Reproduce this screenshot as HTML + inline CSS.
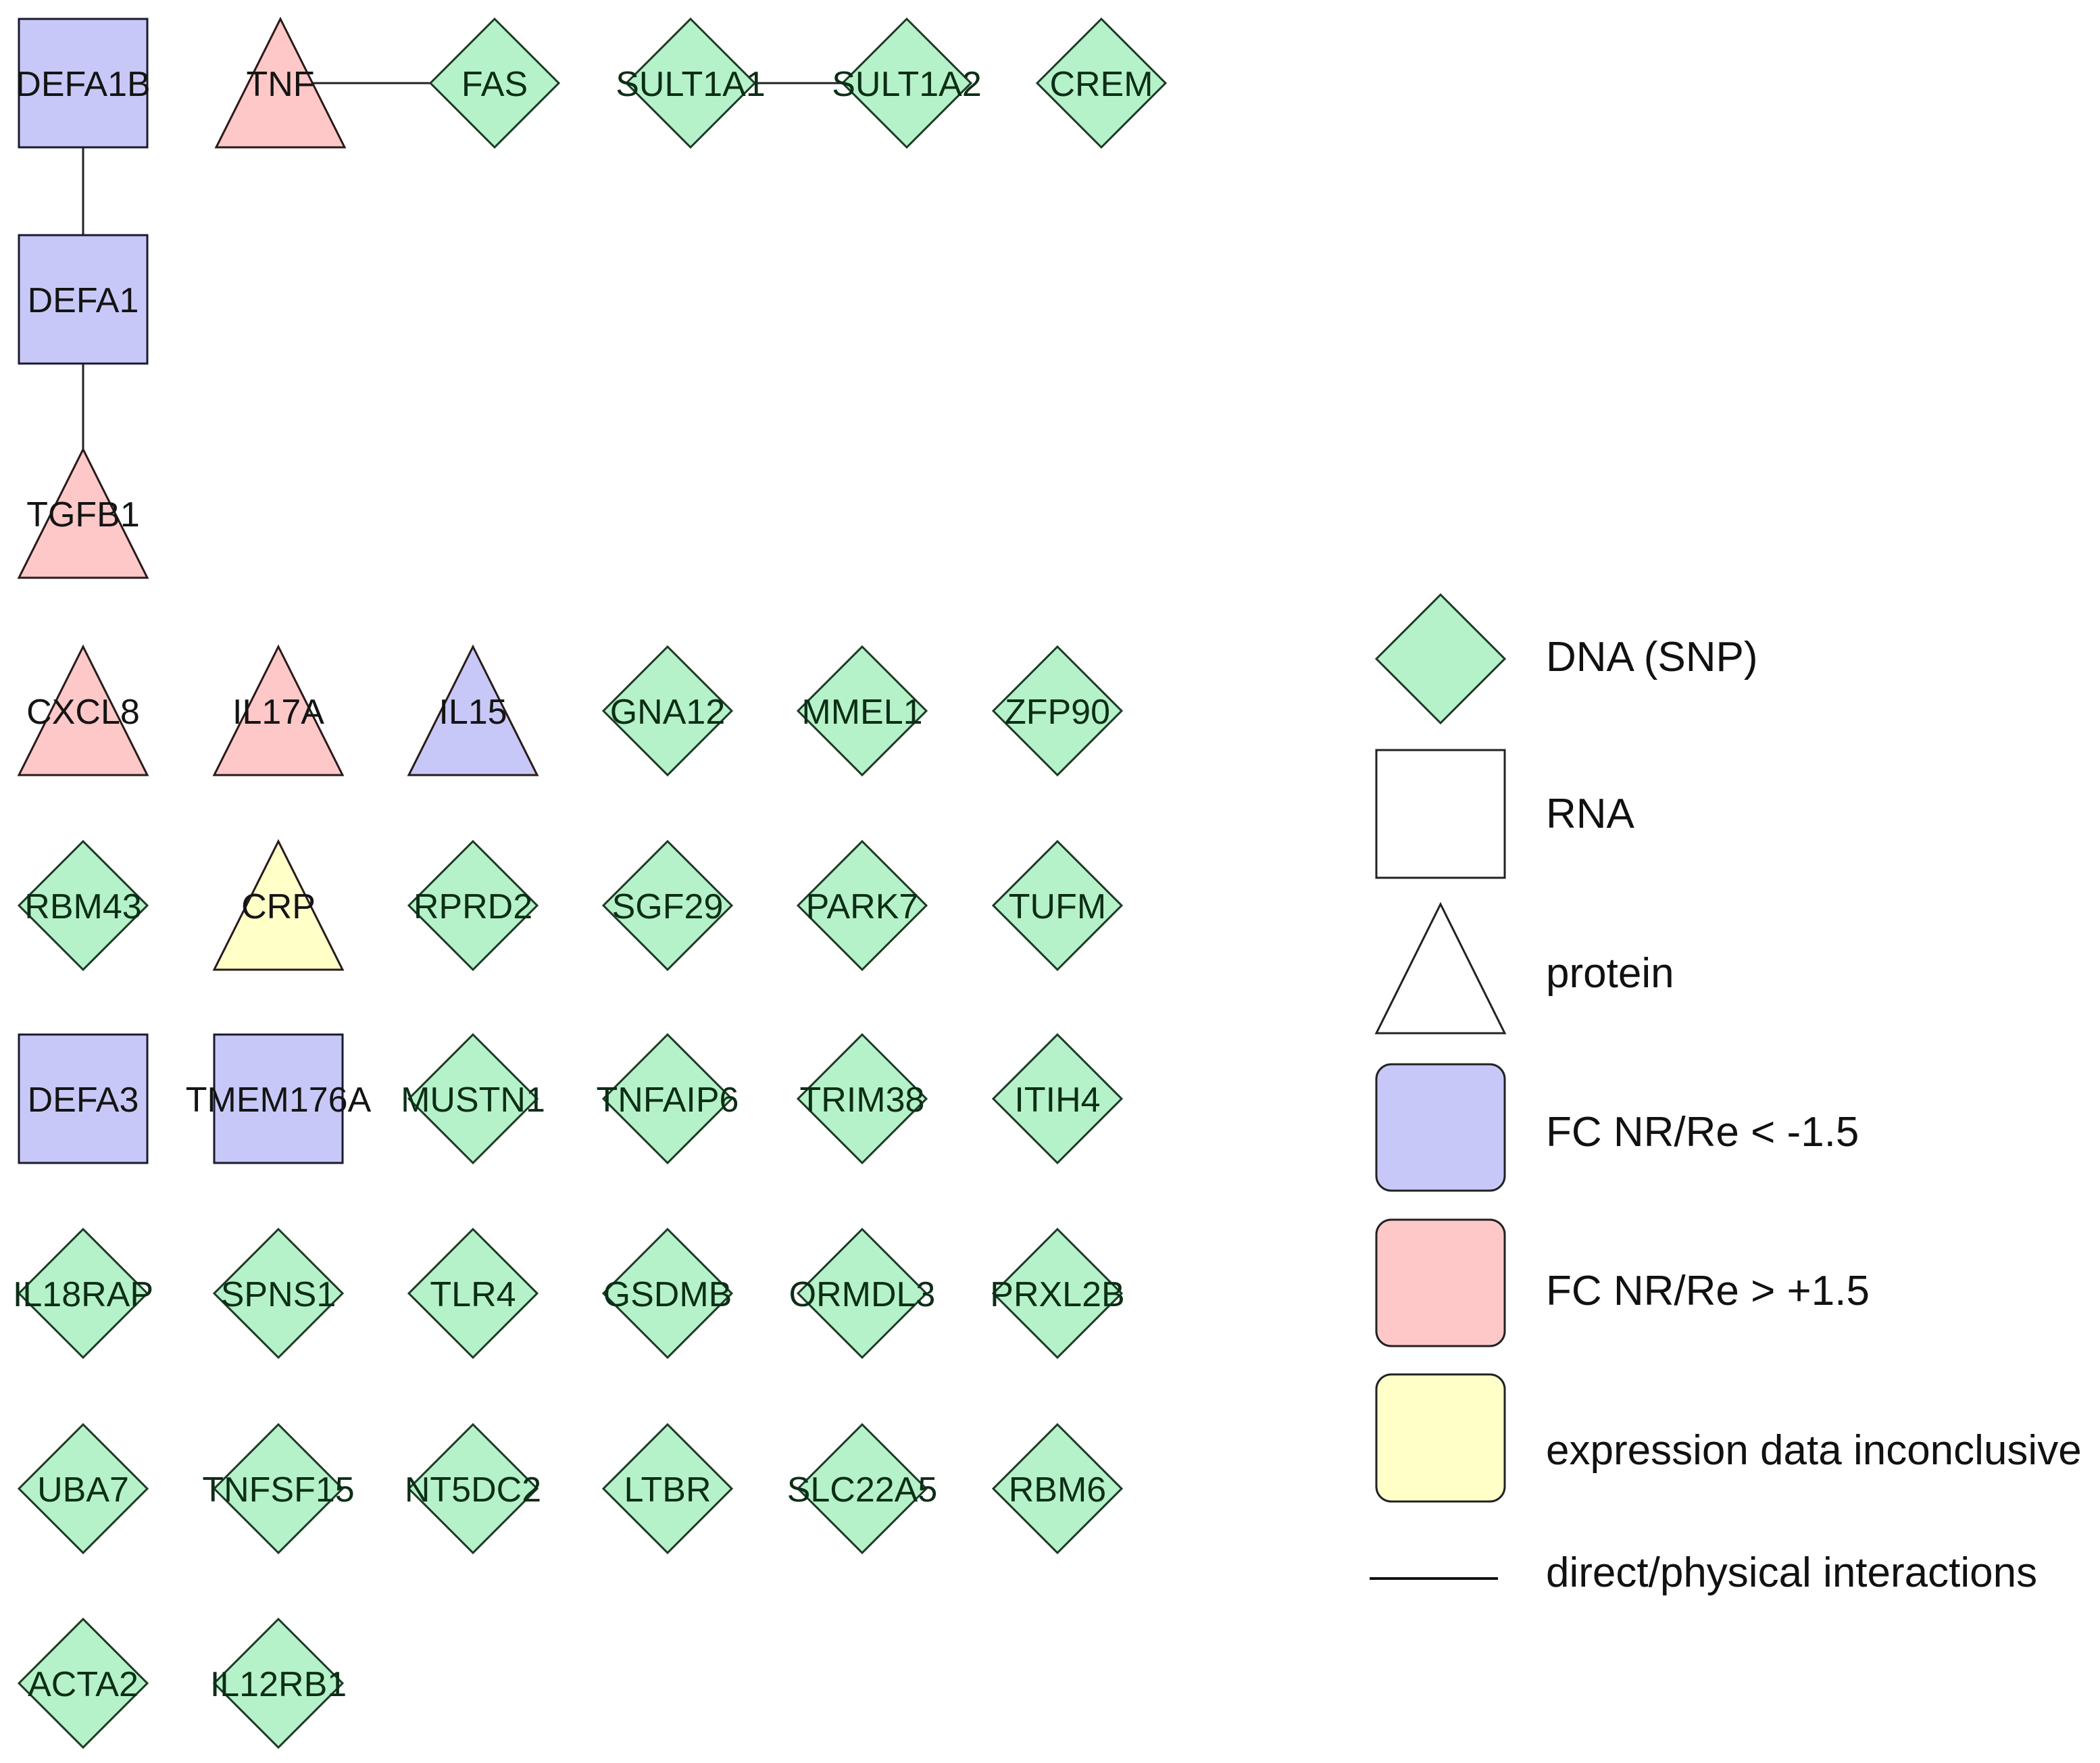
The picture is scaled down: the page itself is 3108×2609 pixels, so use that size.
<!DOCTYPE html>
<html><head><meta charset="utf-8"><style>
html,body{margin:0;padding:0;background:#fff}
svg{display:block}
text{font-family:"Liberation Sans",Arial,sans-serif}
.l{font-size:52px;text-anchor:middle;fill:#141414}
.g{fill:#0c2e16}
.lg{font-size:62px;fill:#111}
</style></head><body>
<svg width="3108" height="2609" viewBox="0 0 3108 2609" xmlns="http://www.w3.org/2000/svg">
<defs>
<polygon id="d" points="0,-95 95,0 0,95 -95,0" stroke="#1e3a26" stroke-width="3"/>
<polygon id="t" points="0,-95 95,95 -95,95" stroke="#2a1a1a" stroke-width="3"/>
<rect id="b" x="-95" y="-95" width="190" height="190" stroke="#1a1a30" stroke-width="3"/>
</defs>
<g stroke="#222" stroke-width="3">
<line x1="123" y1="218" x2="123" y2="350"/>
<line x1="123" y1="538" x2="123" y2="665"/>
<line x1="440" y1="123" x2="640" y2="123"/>
<line x1="1080" y1="123" x2="1290" y2="123"/>
</g>
<g fill="#c8c8f8"><use href="#b" x="123" y="123"/><use href="#b" x="123" y="443"/><use href="#b" x="123" y="1626"/><use href="#b" x="412" y="1626"/><use href="#t" x="700" y="1052"/></g>
<g fill="#ffc8c8"><use href="#t" x="415" y="123"/><use href="#t" x="123" y="760"/><use href="#t" x="123" y="1052"/><use href="#t" x="412" y="1052"/></g>
<g fill="#ffffc8"><use href="#t" x="412" y="1340"/></g>
<g fill="#b6f2c9">
<use href="#d" x="732" y="123"/><use href="#d" x="1022" y="123"/><use href="#d" x="1342" y="123"/><use href="#d" x="1630" y="123"/>
<use href="#d" x="988" y="1052"/><use href="#d" x="1276" y="1052"/><use href="#d" x="1565" y="1052"/>
<use href="#d" x="123" y="1340"/><use href="#d" x="700" y="1340"/><use href="#d" x="988" y="1340"/><use href="#d" x="1276" y="1340"/><use href="#d" x="1565" y="1340"/>
<use href="#d" x="700" y="1626"/><use href="#d" x="988" y="1626"/><use href="#d" x="1276" y="1626"/><use href="#d" x="1565" y="1626"/>
<use href="#d" x="123" y="1914"/><use href="#d" x="412" y="1914"/><use href="#d" x="700" y="1914"/><use href="#d" x="988" y="1914"/><use href="#d" x="1276" y="1914"/><use href="#d" x="1565" y="1914"/>
<use href="#d" x="123" y="2203"/><use href="#d" x="412" y="2203"/><use href="#d" x="700" y="2203"/><use href="#d" x="988" y="2203"/><use href="#d" x="1276" y="2203"/><use href="#d" x="1565" y="2203"/>
<use href="#d" x="123" y="2491"/><use href="#d" x="412" y="2491"/>
</g>
<g class="l">
<text x="123" y="142">DEFA1B</text><text x="415" y="142">TNF</text>
<text x="123" y="462">DEFA1</text><text x="123" y="779">TGFB1</text>
<text x="123" y="1071">CXCL8</text><text x="412" y="1071">IL17A</text><text x="700" y="1071">IL15</text>
<text x="412" y="1359">CRP</text>
<text x="123" y="1645">DEFA3</text><text x="412" y="1645">TMEM176A</text>
</g>
<g class="l g">
<text x="732" y="142">FAS</text><text x="1022" y="142">SULT1A1</text><text x="1342" y="142">SULT1A2</text><text x="1630" y="142">CREM</text>
<text x="988" y="1071">GNA12</text><text x="1276" y="1071">MMEL1</text><text x="1565" y="1071">ZFP90</text>
<text x="123" y="1359">RBM43</text><text x="700" y="1359">RPRD2</text><text x="988" y="1359">SGF29</text><text x="1276" y="1359">PARK7</text><text x="1565" y="1359">TUFM</text>
<text x="700" y="1645">MUSTN1</text><text x="988" y="1645">TNFAIP6</text><text x="1276" y="1645">TRIM38</text><text x="1565" y="1645">ITIH4</text>
<text x="123" y="1933">IL18RAP</text><text x="412" y="1933">SPNS1</text><text x="700" y="1933">TLR4</text><text x="988" y="1933">GSDMB</text><text x="1276" y="1933">ORMDL3</text><text x="1565" y="1933">PRXL2B</text>
<text x="123" y="2222">UBA7</text><text x="412" y="2222">TNFSF15</text><text x="700" y="2222">NT5DC2</text><text x="988" y="2222">LTBR</text><text x="1276" y="2222">SLC22A5</text><text x="1565" y="2222">RBM6</text>
<text x="123" y="2510">ACTA2</text><text x="412" y="2510">IL12RB1</text>
</g>
<!-- legend -->
<polygon points="2132,880 2227,975 2132,1070 2037,975" fill="#b6f2c9" stroke="#1e3a26" stroke-width="3"/>
<rect x="2037" y="1110" width="190" height="189" fill="#fff" stroke="#222" stroke-width="3"/>
<polygon points="2132,1338 2227,1529 2037,1529" fill="#fff" stroke="#222" stroke-width="3"/>
<rect x="2037" y="1575" width="190" height="187" rx="22" fill="#c8c8f8" stroke="#222" stroke-width="3"/>
<rect x="2037" y="1805" width="190" height="187" rx="22" fill="#ffc8c8" stroke="#222" stroke-width="3"/>
<rect x="2037" y="2034" width="190" height="188" rx="22" fill="#ffffc8" stroke="#222" stroke-width="3"/>
<line x1="2027" y1="2336" x2="2217" y2="2336" stroke="#111" stroke-width="4"/>
<g class="lg">
<text x="2288" y="993">DNA (SNP)</text>
<text x="2288" y="1225">RNA</text>
<text x="2288" y="1461">protein</text>
<text x="2288" y="1696">FC NR/Re &lt; -1.5</text>
<text x="2288" y="1931">FC NR/Re &gt; +1.5</text>
<text x="2288" y="2167">expression data inconclusive</text>
<text x="2288" y="2348">direct/physical interactions</text>
</g>
</svg>
</body></html>
